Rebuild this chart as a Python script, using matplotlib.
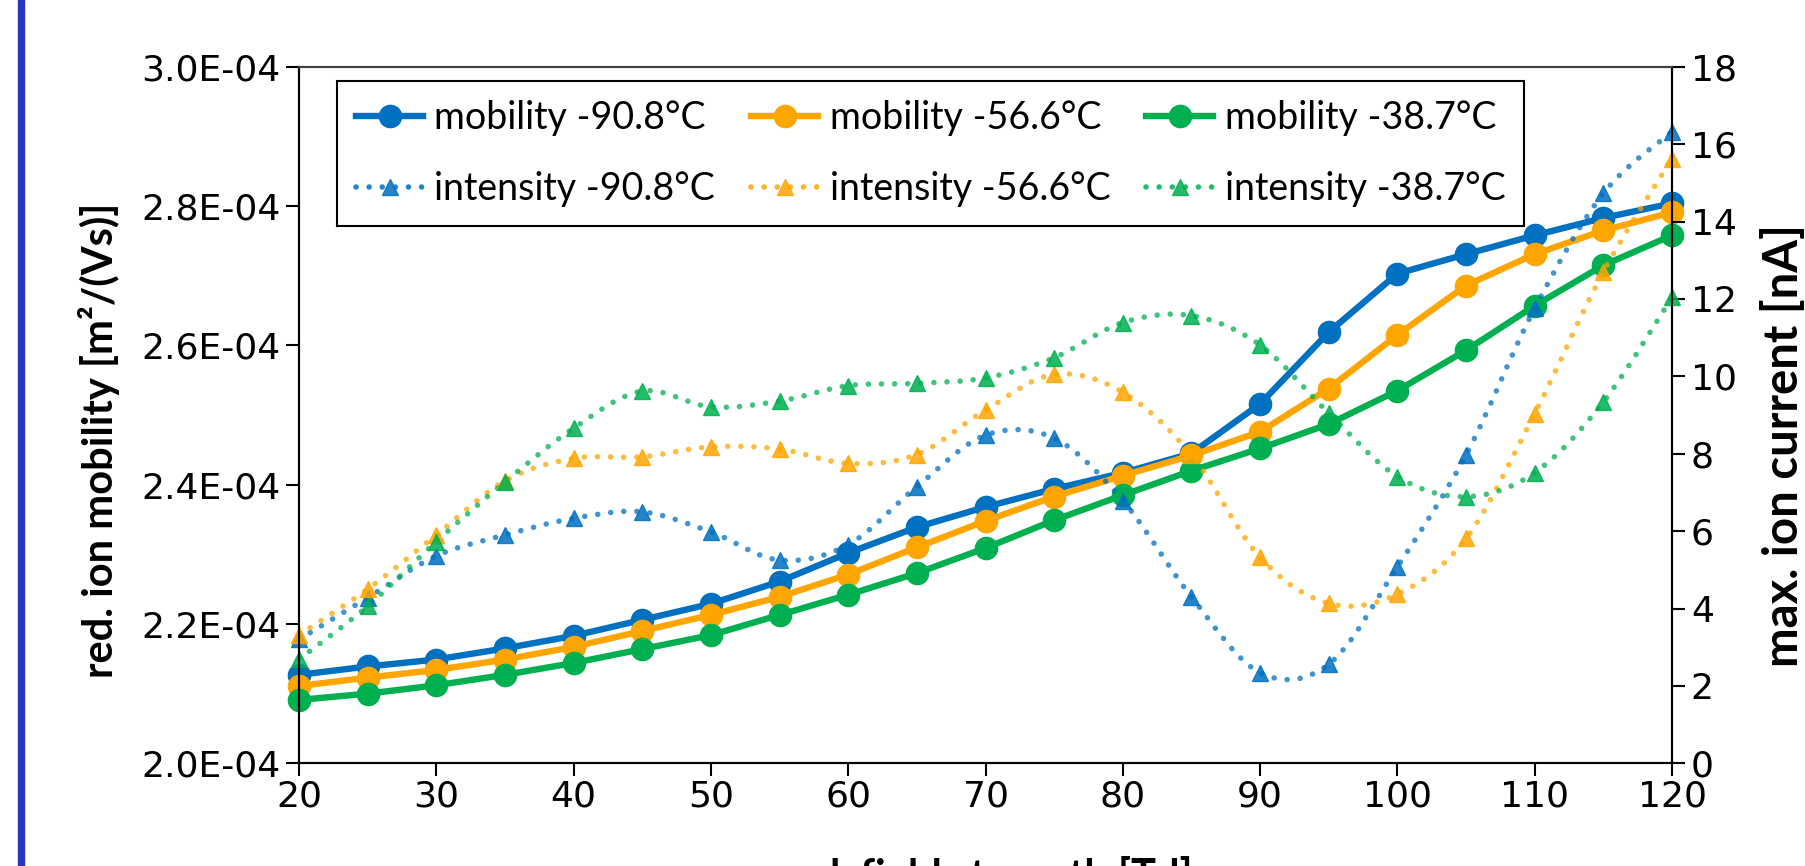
import numpy as np
import matplotlib.pyplot as plt
from matplotlib import font_manager
from matplotlib.path import Path
from matplotlib.patches import PathPatch, Rectangle
from matplotlib.lines import Line2D
from matplotlib.ticker import FuncFormatter, MultipleLocator

# ------------------------------------------------------------------
# data: reduced field strength [Td], mobility [m^2/(Vs)], current [nA]
# ------------------------------------------------------------------
field = [20, 25, 30, 35, 40, 45, 50, 55, 60, 65, 70, 75, 80, 85, 90, 95, 100, 105, 110, 115, 120]

mob_m908 = [2.127, 2.139, 2.149, 2.165, 2.183, 2.206, 2.229, 2.261, 2.302, 2.339, 2.368,
            2.394, 2.417, 2.445, 2.516, 2.619, 2.703, 2.731, 2.758, 2.783, 2.804]
mob_m566 = [2.111, 2.123, 2.134, 2.149, 2.167, 2.190, 2.213, 2.239, 2.271, 2.310, 2.348,
            2.383, 2.413, 2.442, 2.476, 2.538, 2.615, 2.686, 2.731, 2.765, 2.791]
mob_m387 = [2.091, 2.100, 2.112, 2.127, 2.144, 2.164, 2.184, 2.213, 2.242, 2.273, 2.309,
            2.349, 2.385, 2.420, 2.452, 2.487, 2.535, 2.593, 2.657, 2.715, 2.758]

int_m908 = [3.20, 4.28, 5.36, 5.90, 6.33, 6.50, 5.98, 5.25, 5.65, 7.15, 8.48,
            8.40, 6.79, 4.30, 2.34, 2.56, 5.08, 7.97, 11.76, 14.73, 16.32]
int_m566 = [3.32, 4.50, 5.90, 7.30, 7.88, 7.92, 8.18, 8.12, 7.75, 7.98, 9.13,
            10.05, 9.59, 7.97, 5.32, 4.13, 4.37, 5.81, 9.04, 12.70, 15.63]
int_m387 = [2.69, 4.06, 5.73, 7.27, 8.66, 9.62, 9.21, 9.36, 9.76, 9.82, 9.96,
            10.48, 11.39, 11.57, 10.81, 9.05, 7.41, 6.89, 7.51, 9.34, 12.04]

temps  = ['-90.8°C', '-56.6°C', '-38.7°C']
colors = ['#0070C0', '#FFA500', '#00B050']

mobilities  = [np.array(m) * 1e-4 for m in [mob_m908, mob_m566, mob_m387]]
intensities = [int_m908, int_m566, int_m387]

# ------------------------------------------------------------------
# fonts
# ------------------------------------------------------------------
names = {f.name for f in font_manager.fontManager.ttflist}
txt_font = 'Lato' if 'Lato' in names else 'DejaVu Sans'
plt.rcParams['font.family'] = ['DejaVu Sans']


def smooth_path(x, y):
    # cubic bezier through the points, like a spreadsheet "smoothed line"
    pts = np.column_stack([x, y]).astype(float)
    n = len(pts)
    verts = [pts[0]]
    codes = [Path.MOVETO]
    for i in range(n - 1):
        p0 = pts[i - 1] if i > 0 else pts[i]
        p1 = pts[i]
        p2 = pts[i + 1]
        p3 = pts[i + 2] if i + 2 < n else pts[i + 1]
        verts += [p1 + (p2 - p0) / 6.0, p2 - (p3 - p1) / 6.0, p2]
        codes += [Path.CURVE4] * 3
    return Path(verts, codes)


W, H = 1805, 866
fig = plt.figure(figsize=(W / 100, H / 100), dpi=100)
x0, x1, y0, y1 = 299, 1672, 66.8, 763.3
ax = fig.add_axes([x0 / W, 1 - y1 / H, (x1 - x0) / W, (y1 - y0) / H])
ax2 = ax.twinx()

# blue bar on the left edge
fig.patches.append(Rectangle((18 / W, 0), 6 / W, 1, transform=fig.transFigure,
                             color='#2B36BE', zorder=0))

# ------------------------------------------------------------------
# mobility (left axis)
# ------------------------------------------------------------------
handles = []
for mob, c, t in zip(mobilities, colors, temps):
    ln, = ax.plot(field, mob, '-o', color=c, lw=4.6, ms=16, clip_on=False,
                  label='mobility ' + t)
    handles.append(ln)

# ------------------------------------------------------------------
# intensity (right axis), smoothed dotted lines
# ------------------------------------------------------------------
dots = (0, (0.01, 2.35))
ihandles = []
for inten, c, t in zip(intensities, colors, temps):
    patch = PathPatch(smooth_path(field, inten), fill=False, edgecolor=c, alpha=0.75,
                      lw=4.0, linestyle=dots, capstyle='round', clip_on=False)
    ax2.add_patch(patch)
    ax2.plot(field, inten, '^', color=c, ms=12, alpha=0.85, clip_on=False, ls='none')
    ihandles.append(Line2D([], [], color=c, lw=4.0, ls=dots, dash_capstyle='round',
                           marker='^', ms=12, alpha=0.85, label='intensity ' + t))

# ------------------------------------------------------------------
# axes styling
# ------------------------------------------------------------------
ax.set_xlim(20, 120)
ax.set_ylim(2.0e-4, 3.0e-4)
ax2.set_ylim(0, 18)
ax.xaxis.set_major_locator(MultipleLocator(10))
ax.yaxis.set_major_locator(MultipleLocator(0.2e-4))
ax2.yaxis.set_major_locator(MultipleLocator(2))
ax.yaxis.set_major_formatter(FuncFormatter(lambda v, p: f'{v:.1E}'))

for a in (ax, ax2):
    for s in a.spines.values():
        s.set_linewidth(1.5)
        s.set_color('black')
    a.spines['top'].set_color('#404040')
    a.tick_params(direction='out', length=9.5, width=1.5, labelsize=26, pad=4)
ax.tick_params(axis='x', pad=2)
ax.set_facecolor('none')

ax.set_ylabel('red. ion mobility [m²/(Vs)]', family=txt_font, fontweight='bold',
              fontsize=30)
ax.yaxis.set_label_coords(-0.1306, 0.463)
ax2.set_ylabel('max. ion current [nA]', family=txt_font, fontweight='bold',
               fontsize=34)
ax2.yaxis.set_label_coords(1.0648, 0.4556)
fig.text((x0 + x1) / 2 / W, 1 - 855 / H, 'red. field strength [Td]', family=txt_font,
         fontweight='bold', fontsize=30, ha='center', va='top')

leg_handles = [handles[0], ihandles[0], handles[1], ihandles[1], handles[2], ihandles[2]]
leg = ax2.legend(handles=leg_handles, ncol=3, loc='upper left',
                 bbox_to_anchor=(337 / W, 1 - 81 / H), bbox_transform=fig.transFigure,
                 prop={'family': txt_font, 'size': 27}, frameon=True, fancybox=False,
                 edgecolor='black', framealpha=1, borderpad=0.5, handlelength=1.8,
                 handletextpad=0.3, columnspacing=0.95, labelspacing=0.95,
                 borderaxespad=0)
leg.get_frame().set_linewidth(1.5)

fig.savefig('out.png', dpi=100)
